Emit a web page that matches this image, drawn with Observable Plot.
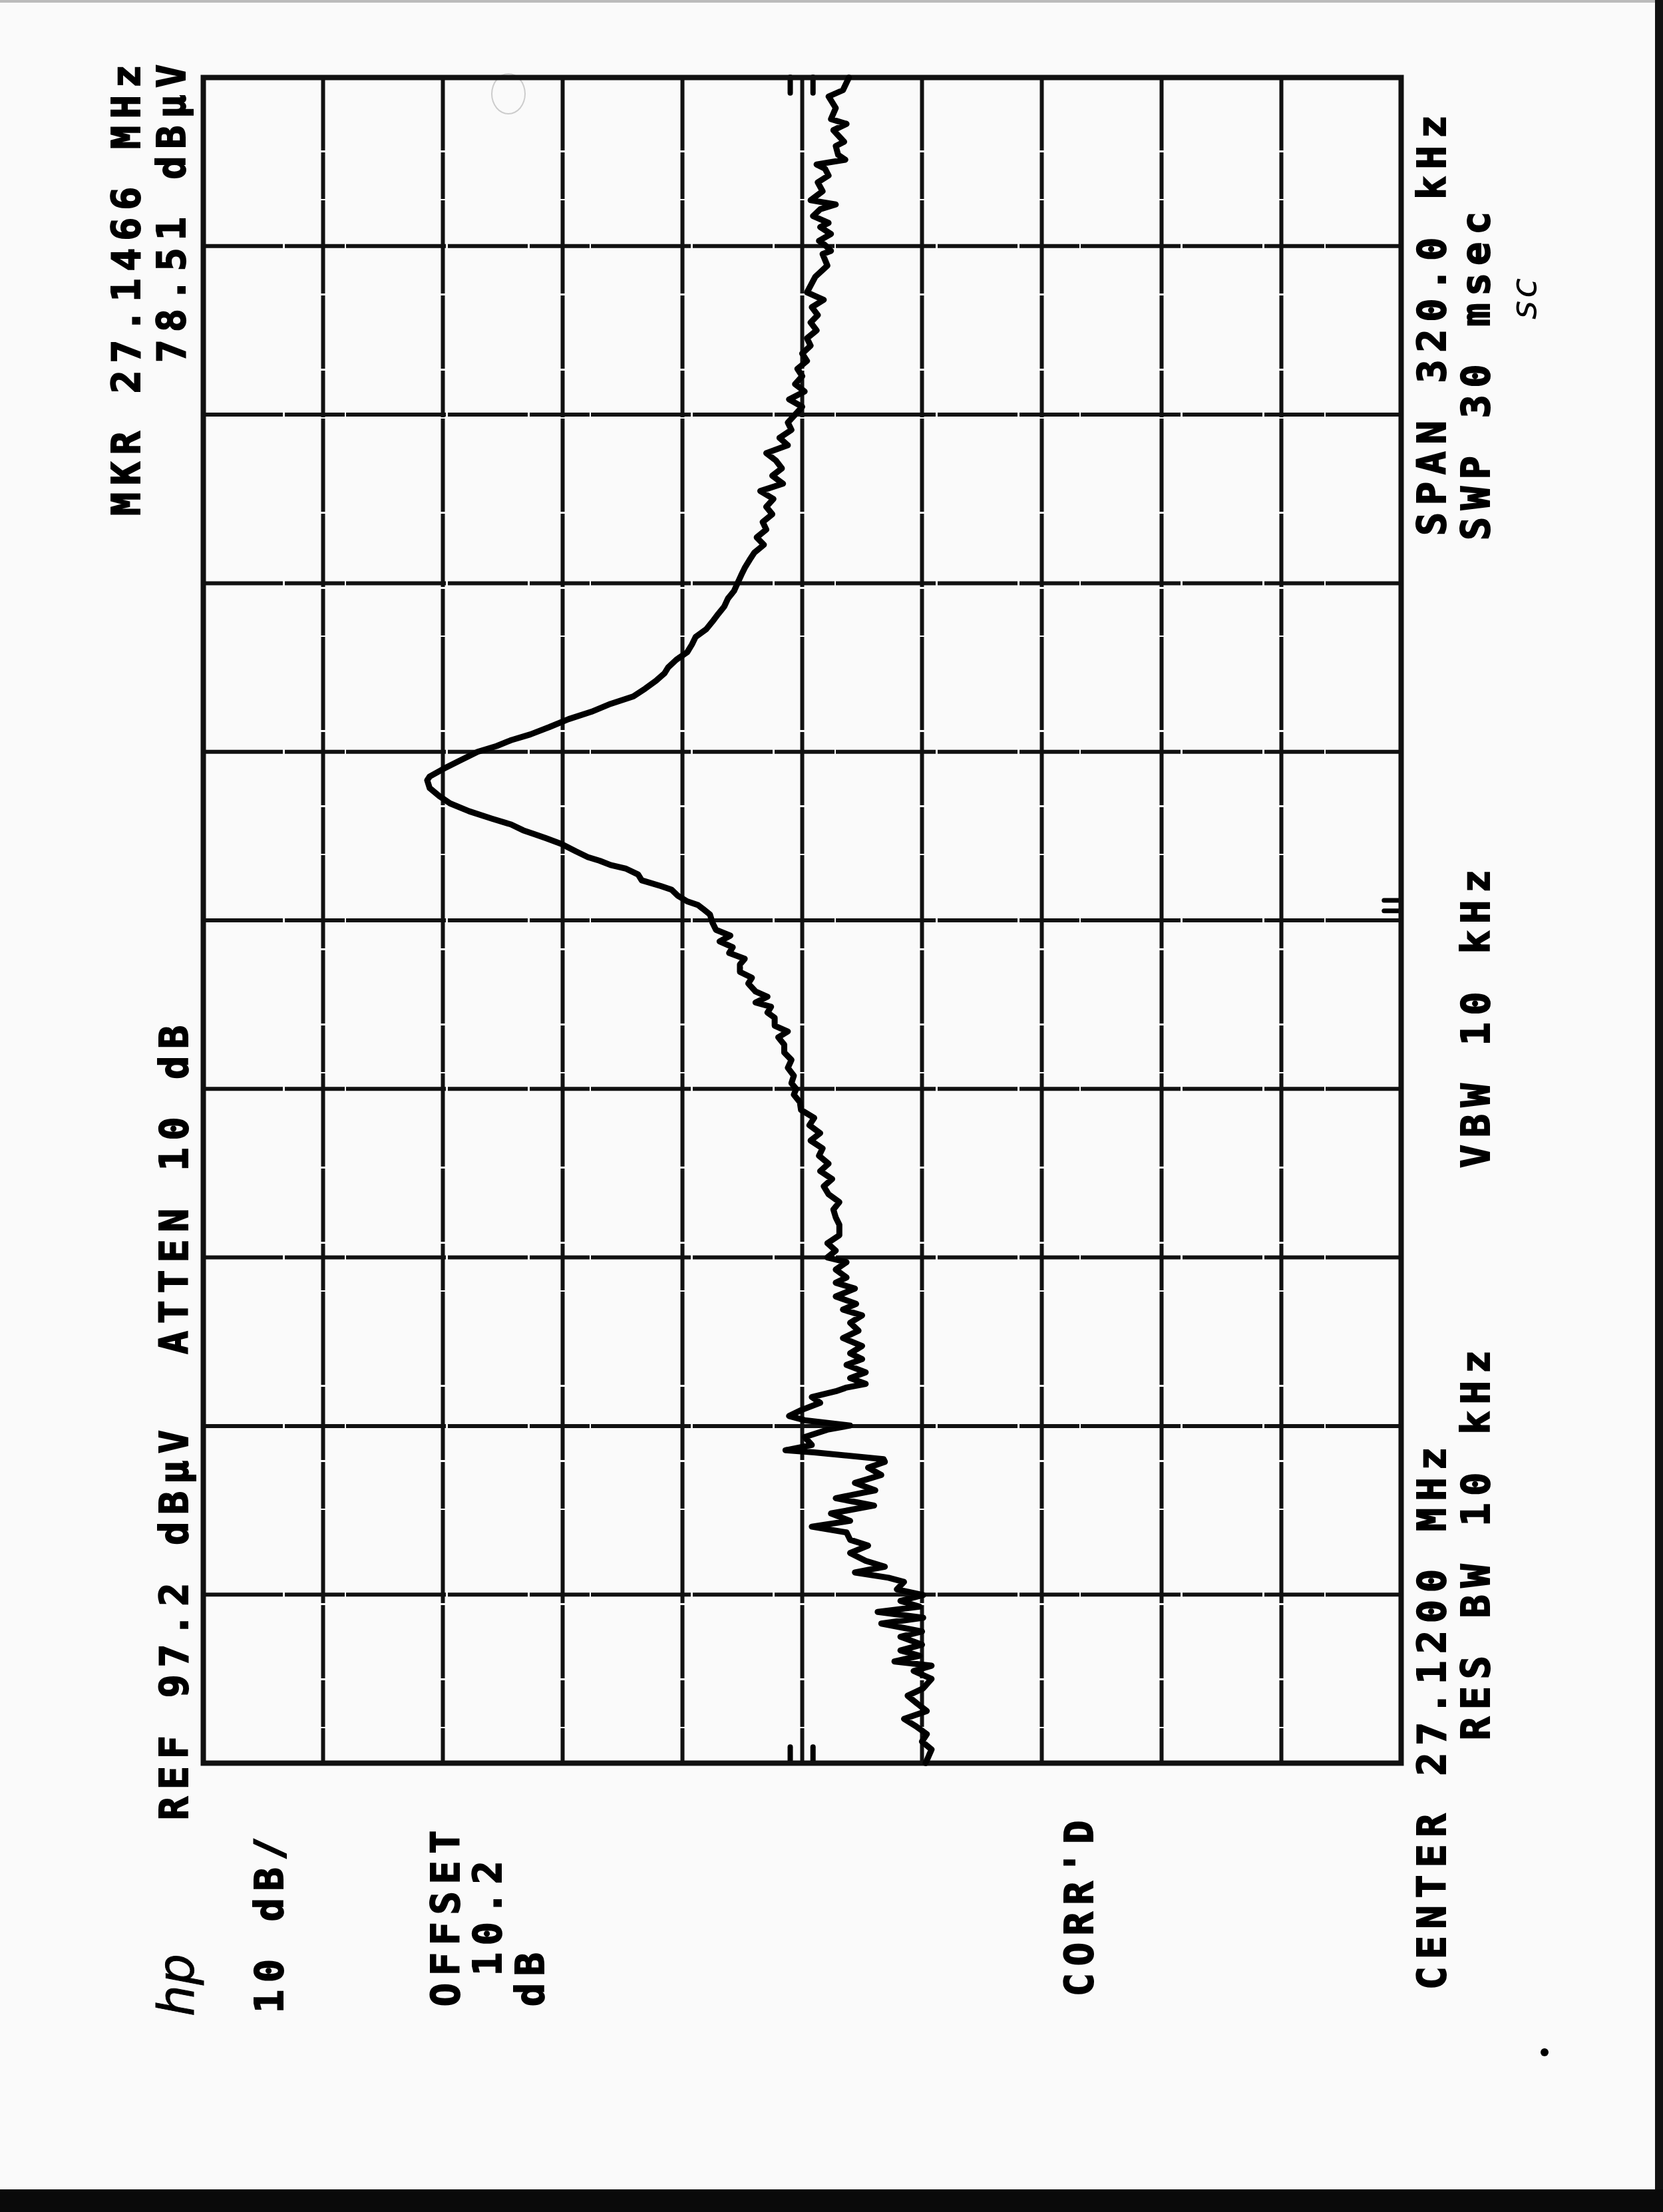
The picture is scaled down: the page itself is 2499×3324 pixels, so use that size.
<!DOCTYPE html>
<html>
<head>
<meta charset="utf-8">
<script src="https://cdn.jsdelivr.net/npm/d3@7"></script>
<script src="https://cdn.jsdelivr.net/npm/@observablehq/plot@0.6"></script>
<style>
html,body{margin:0;padding:0;background:#fafafa;}
#page{position:relative;width:2499px;height:3324px;overflow:hidden;background:#fafafa;}
#chart{position:absolute;left:0;top:0;}
.lbl{position:absolute;transform-origin:0 0;transform:rotate(-90deg);font-family:"DejaVu Sans Mono",monospace;font-weight:bold;font-size:58px;line-height:58px;letter-spacing:11px;white-space:pre;color:#000;-webkit-text-stroke:2px #000;}
.logo{font-family:"DejaVu Sans",sans-serif;font-style:italic;font-weight:normal;letter-spacing:0;font-size:74px;line-height:74px;-webkit-text-stroke:1px #000;}
.hand{font-family:"DejaVu Sans",sans-serif;font-weight:normal;font-style:italic;letter-spacing:4px;font-size:54px;line-height:54px;-webkit-text-stroke:0;}
#edgeR{position:absolute;left:2487px;top:0;width:12px;height:3324px;background:#111;}
#edgeB{position:absolute;left:0;top:3290px;width:2499px;height:34px;background:#0a0a0a;}
#edgeT{position:absolute;left:0;top:0;width:2499px;height:4px;background:#bbb;}
#ring{position:absolute;left:738px;top:110px;width:48px;height:58px;border:2px solid #ccc;border-radius:50%;}
.dot{position:absolute;width:12px;height:12px;border-radius:6px;background:#000;}
</style>
</head>
<body>
<div id="page"><div id="edgeT"></div><div id="ring"></div><div id="chart"></div><div id="edgeR"></div><div id="edgeB"></div></div>
<script>
// ---- Instrument settings ----
const refLevel = 97.2;          // dBµV, REF
const dbPerDiv = 10;
const centerMHz = 27.12;
const spanMHz = 0.32;
const startMHz = 26.96;
const stopMHz = 27.28;

// ---- Graticule lines (interior) ----
const ampTicks = [87.2, 77.2, 67.2, 57.2, 47.2, 37.2, 27.2, 17.2, 7.2];
const freqTicks = [26.992, 27.024, 27.056, 27.088, 27.120, 27.152, 27.184, 27.216, 27.248];

// small graticule marks (display line indicators)
const edgeMarkLevels = [48.2, 46.3];
const sideMarkFreqs = [27.1218, 27.1238];

// ---- Trace: frequency (MHz) and level (dBµV) ----
const freqMHz = [
26.9600,26.9626,26.9641,26.9655,26.9670,26.9684,26.9699,26.9713,26.9728,26.9742,
26.9760,26.9775,26.9785,26.9793,26.9804,26.9814,26.9825,26.9840,26.9850,26.9865,
26.9876,26.9887,26.9897,26.9908,26.9919,26.9930,26.9944,26.9952,26.9962,26.9973,
26.9984,26.9999,27.0013,27.0024,27.0038,27.0049,27.0060,27.0074,27.0089,27.0103,
27.0118,27.0132,27.0147,27.0161,27.0172,27.0177,27.0190,27.0194,27.0204,27.0219,
27.0233,27.0241,27.0251,27.0259,27.0270,27.0284,27.0295,27.0306,27.0313,27.0320,
27.0331,27.0342,27.0356,27.0367,27.0378,27.0392,27.0407,27.0421,27.0436,27.0450,
27.0461,27.0472,27.0486,27.0501,27.0512,27.0522,27.0537,27.0551,27.0560,27.0573,
27.0587,27.0602,27.0622,27.0636,27.0651,27.0665,27.0680,27.0695,27.0709,27.0724,
27.0738,27.0753,27.0767,27.0782,27.0796,27.0811,27.0825,27.0840,27.0855,27.0869,
27.0880,27.0891,27.0905,27.0920,27.0935,27.0949,27.0964,27.0978,27.0989,27.1000,
27.1015,27.1025,27.1036,27.1044,27.1055,27.1065,27.1080,27.1091,27.1102,27.1116,
27.1127,27.1138,27.1149,27.1160,27.1171,27.1182,27.1196,27.1211,27.1222,27.1229,
27.1236,27.1247,27.1258,27.1265,27.1276,27.1287,27.1298,27.1305,27.1313,27.1320,
27.1331,27.1338,27.1345,27.1356,27.1364,27.1371,27.1382,27.1393,27.1407,27.1422,
27.1436,27.1451,27.1466,27.1473,27.1487,27.1502,27.1520,27.1531,27.1542,27.1553,
27.1567,27.1582,27.1596,27.1611,27.1625,27.1640,27.1655,27.1669,27.1680,27.1695,
27.1709,27.1724,27.1738,27.1753,27.1767,27.1782,27.1796,27.1811,27.1825,27.1840,
27.1855,27.1869,27.1884,27.1898,27.1913,27.1927,27.1942,27.1956,27.1971,27.1985,
27.2000,27.2015,27.2029,27.2044,27.2058,27.2073,27.2087,27.2102,27.2116,27.2131,
27.2145,27.2160,27.2175,27.2189,27.2204,27.2218,27.2233,27.2247,27.2262,27.2276,
27.2291,27.2305,27.2320,27.2335,27.2349,27.2364,27.2378,27.2392,27.2422,27.2443,
27.2465,27.2471,27.2482,27.2490,27.2503,27.2516,27.2524,27.2537,27.2550,27.2559,
27.2567,27.2584,27.2601,27.2614,27.2627,27.2635,27.2644,27.2653,27.2670,27.2678,
27.2700,27.2712,27.2721,27.2742,27.2764,27.2776,27.2800
];
const levelDBuV = [
36.9,36.4,37.2,36.8,37.7,38.7,36.8,37.6,38.4,37.1,
36.4,37.9,36.4,39.5,37.4,39.0,37.2,39.0,37.2,40.6,
37.1,40.9,37.4,39.0,37.1,39.3,38.7,40.0,42.8,40.3,
41.9,43.2,41.7,43.2,43.5,46.4,43.2,44.8,41.2,44.4,
41.1,42.8,40.6,41.7,40.3,40.4,46.2,48.6,46.4,47.0,
45.1,43.2,47.0,48.3,47.3,45.7,46.4,44.4,43.5,41.9,
43.2,41.9,43.5,42.2,43.2,42.2,43.8,42.5,43.2,42.2,
43.8,42.7,44.4,42.8,44.4,43.5,44.4,43.5,45.1,44.4,
45.1,44.1,44.1,44.4,44.6,44.1,45.0,45.4,44.7,45.7,
45.0,45.8,45.5,46.5,45.7,46.6,46.2,47.3,47.4,47.9,
47.7,48.1,47.9,48.4,48.1,48.7,48.7,49.2,48.4,49.5,
49.5,50.1,49.8,51.1,50.1,51.1,51.7,51.4,52.4,52.4,
52.0,53.3,53.0,54.1,53.2,54.4,54.7,54.9,55.5,55.9,
56.8,57.6,58.1,59.0,60.6,60.9,61.9,63.2,64.1,65.1,
66.1,66.7,67.3,68.6,69.6,70.5,71.5,73.1,75.0,76.6,
77.5,78.3,78.51,78.3,77.2,75.9,74.3,72.7,71.5,69.9,
68.3,66.7,64.8,63.2,61.3,60.3,59.4,58.7,58.4,57.7,
56.8,56.4,56.1,55.2,54.7,54.2,53.7,53.4,52.9,52.6,
52.3,52.0,51.6,51.2,50.4,51.0,50.2,50.5,49.7,50.2,
49.6,50.7,48.8,49.7,48.9,49.4,50.2,48.4,49.1,48.1,
48.4,47.8,47.2,48.3,47.0,47.8,47.2,47.6,46.8,47.2,
46.5,46.8,46.0,46.5,45.9,46.4,45.4,46.8,46.1,45.1,
45.5,44.8,45.3,45.8,44.8,45.7,45.0,46.3,45.7,44.4,
46.5,45.5,45.9,45.0,45.3,46.0,43.6,44.2,44.4,43.7,
44.6,43.5,44.8,44.4,45.0,43.8,43.3
];

// ---- Annotation texts ----
const textMarker = "MKR 27.1466 MHz";
const textMarkerLevel = "78.51 dBµV";
const textRef = "REF 97.2 dBµV";
const textAtten = "ATTEN 10 dB";
const textScale = "10 dB/";
const textOffset = ["OFFSET", " 10.2", "dB"];
const textCorr = "CORR'D";
const textCenter = "CENTER 27.1200 MHz";
const textRbw = "RES BW 10 kHz";
const textVbw = "VBW 10 kHz";
const textSpan = "SPAN 320.0 kHz";
const textSwp = "SWP 30 msec";
const textLogo = "hp";
const textHand = "sc";

// ---- Layout (page pixels) ----
const W = 2499, H = 3324;
const FL = 305, FR = 2105, FT = 116, FB = 2649;

const trace = freqMHz.map((f, i) => ({freq: f, level: levelDBuV[i]}));

const chart = Plot.plot({
  width: W, height: H,
  marginLeft: FL, marginRight: W - FR, marginTop: FT, marginBottom: H - FB,
  x: {domain: [refLevel - 10 * dbPerDiv, refLevel], reverse: true, axis: null},
  y: {domain: [startMHz, stopMHz], axis: null},
  style: {background: "transparent", overflow: "visible"},
  marks: [
    Plot.gridX(ampTicks, {stroke: "#111", strokeOpacity: 1, strokeWidth: 6, strokeDasharray: "110,3,70,2,140,3"}),
    Plot.gridY(freqTicks, {stroke: "#111", strokeOpacity: 1, strokeWidth: 6, strokeDasharray: "120,3,90,2,150,3"}),
    Plot.ruleX(edgeMarkLevels, {x: d => d, y1: stopMHz, y2: stopMHz - 0.0030, stroke: "#000", strokeWidth: 8, strokeLinecap: "round"}),
    Plot.ruleX(edgeMarkLevels, {x: d => d, y1: startMHz, y2: startMHz + 0.0030, stroke: "#000", strokeWidth: 8, strokeLinecap: "round"}),
    Plot.ruleY(sideMarkFreqs, {y: d => d, x1: refLevel - 10 * dbPerDiv, x2: refLevel - 10 * dbPerDiv + 1.4, stroke: "#000", strokeWidth: 7, strokeLinecap: "round"}),
    Plot.frame({stroke: "#111", strokeWidth: 8}),
    Plot.line(trace, {x: "level", y: "freq", stroke: "#000", strokeWidth: 9, strokeLinejoin: "round", strokeLinecap: "round"})
  ]
});
document.getElementById("chart").appendChild(chart);

// rotated labels: column centre x, start y (text reads bottom to top)
const page = document.getElementById("page");
function label(text, cx, y0, cls) {
  const d = document.createElement("div");
  d.className = "lbl" + (cls ? " " + cls : "");
  d.textContent = text;
  page.appendChild(d);
  const lh = parseFloat(getComputedStyle(d).lineHeight);
  d.style.left = (cx - lh / 2) + "px";
  d.style.top = y0 + "px";
}
label(textMarker, 190, 775);
label(textMarkerLevel, 258, 545);
label(textRef, 262, 2735);
label(textAtten, 262, 2035);
label(textLogo, 265, 3030, "logo");
label(textScale, 405, 3025);
label(textOffset[0], 670, 3015);
label(textOffset[1], 733, 3015);
label(textOffset[2], 797, 3015);
label(textCorr, 1622, 3000);
label(textCenter, 2152, 2990);
label(textRbw, 2218, 2615);
label(textVbw, 2218, 1755);
label(textSpan, 2152, 805);
label(textSwp, 2218, 812);
label(textHand, 2290, 480, "hand");

const dot = document.createElement("div");
dot.className = "dot";
dot.style.left = "2315px"; dot.style.top = "3078px";
page.appendChild(dot);
</script>
</body>
</html>
